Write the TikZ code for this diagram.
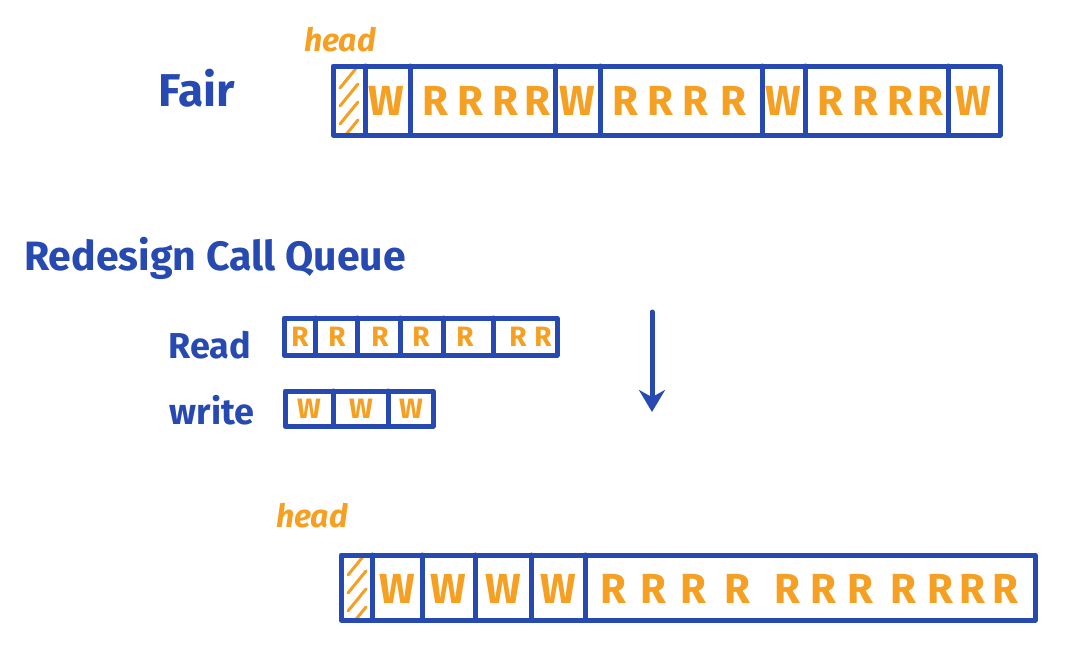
\documentclass[tikz,border=0pt]{standalone}
\usepackage{fontspec}
\setmainfont{Fira Sans}
\usepackage{tikz}
\usetikzlibrary{arrows.meta}
\usetikzlibrary{positioning}
\usepackage{xcolor}
\definecolor{penblue}{RGB}{38,74,178}
\definecolor{penorange}{RGB}{245,160,35}
\tikzset{
  pen/.style={penblue, line width=5pt, line cap=round, line join=round},
  lbl/.style={penblue, font=\fontsize{36}{40}\selectfont\bfseries},
  cellR/.style={penorange, font=\fontsize{42}{44}\selectfont\bfseries, inner sep=0pt},
  headlbl/.style={penorange, font=\fontsize{32}{34}\selectfont\bfseries\itshape},
  hatch/.style={penorange, line width=3pt, line cap=round}
}

\begin{document}
\begin{tikzpicture}[x=1pt,y=-1pt]
\useasboundingbox (0,0) rectangle (1080,659);

% fair queue
\node[lbl,font=\fontsize{46}{48}\selectfont\bfseries] (fair) at (197,88) {Fair};
\node[headlbl] (head1) at (340,40) {head};
\begin{scope}
\clip (333,66) rectangle (365,135);
\foreach \y in {66,84,102,120} \draw[hatch] (340,\y+22) -- (358,\y);
\end{scope}
\draw[pen] (333,66) rectangle (1000,135);
\foreach \x in {365,410,555,600,762,805,948} \draw[pen] (\x,66) -- (\x,135);
\foreach \x [count=\i] in {386,577,783,973} \node[cellR] (fw\i) at (\x,101) {W};
\foreach \x [count=\i] in {435,470,505,537,625,660,695,733,830,865,900,930}
  \node[cellR] (fr\i) at (\x,101) {R};

% title
\node[lbl,font=\fontsize{41}{44}\selectfont\bfseries] (redesign) at (215,258) {Redesign Call Queue};

% read and write queues
\node[lbl,font=\fontsize{36}{38}\selectfont\bfseries] (read) at (210,345) {Read};
\node[lbl,font=\fontsize{36}{38}\selectfont\bfseries] (write) at (212,410) {write};
\draw[pen] (284,318) rectangle (557,355);
\foreach \x in {315,357,400,443,493} \draw[pen] (\x,318) -- (\x,355);
\foreach \x [count=\i] in {300,337,380,421,465,518,543}
  \node[cellR,font=\fontsize{28}{30}\selectfont\bfseries] (rr\i) at (\x,337) {R};
\draw[pen] (285,391) rectangle (433,426);
\foreach \x in {333,388} \draw[pen] (\x,391) -- (\x,426);
\foreach \x [count=\i] in {309,361,411}
  \node[cellR,font=\fontsize{28}{30}\selectfont\bfseries] (ww\i) at (\x,409) {W};

% arrow
\coordinate (arrtop) at (652,312);
\coordinate (arrbot) at (652,412);
\draw[pen,-{Stealth[length=22pt,width=26pt]}] (arrtop) -- (arrbot);

% merged queue
\node[headlbl] (head2) at (312,516) {head};
\begin{scope}
\clip (341,555) rectangle (372,620);
\foreach \y in {553,571,589,607} \draw[hatch] (348,\y+22) -- (366,\y);
\end{scope}
\draw[pen] (341,555) rectangle (1035,620);
\foreach \x in {372,422,475,531,585} \draw[pen] (\x,555) -- (\x,620);
\foreach \x [count=\i] in {397,448,503,558} \node[cellR] (bw\i) at (\x,589) {W};
\foreach \x [count=\i] in {613,653,693,737,787,823,860,903,940,972,1005}
  \node[cellR] (br\i) at (\x,589) {R};
\end{tikzpicture}
\end{document}
